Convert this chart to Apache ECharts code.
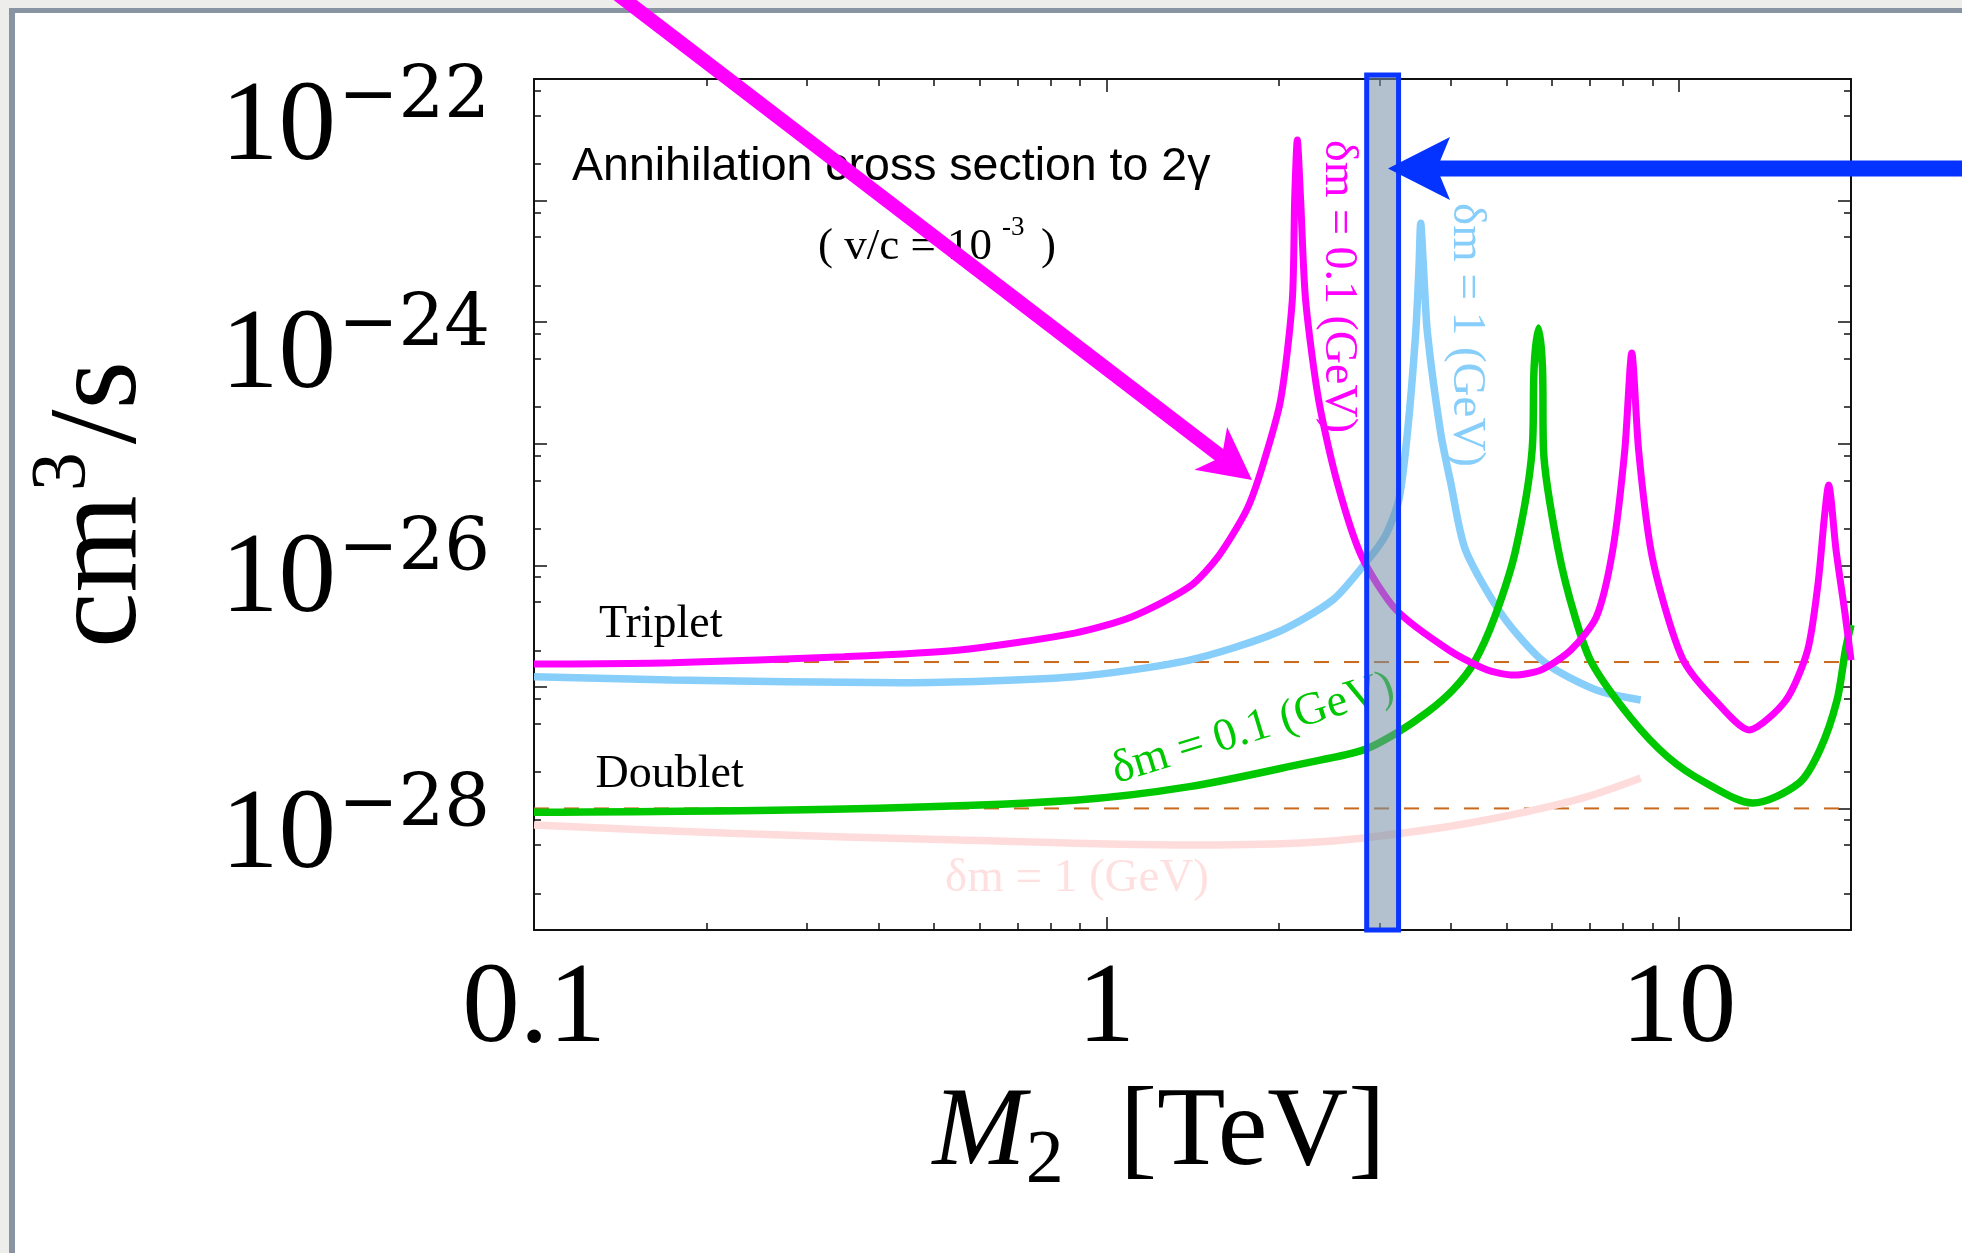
<!DOCTYPE html>
<html><head><meta charset="utf-8">
<script src="https://cdn.jsdelivr.net/npm/echarts@6/dist/echarts.min.js"></script>
<style>
html,body{margin:0;padding:0;width:1962px;height:1253px;overflow:hidden;background:#ededeb;}
#panel{position:absolute;left:9px;top:8px;right:0;bottom:0;background:#fff;border-left:6px solid #8994a2;border-top:5px solid #8994a2;}
#chart{position:absolute;left:0;top:0;width:1962px;height:1253px;}
</style></head><body><div id="panel"></div><div id="chart"></div>
<script>
// ---- axis ranges & ticks (cm^3/s) ----
const X_MIN = 0.1, X_MAX = 20, Y_MIN = 1e-29, Y_MAX = 1e-22;
const xLabelValues = [0.1, 1, 10];
const xTicksMajor = [0.1, 1, 10];
const xTicksMinor = [0.2,0.3,0.4,0.5,0.6,0.7,0.8,0.9,2,3,4,5,6,7,8,9];
const yLabelValues = [1e-28, 1e-26, 1e-24, 1e-22];
const yTicksMajor = [1e-29,1e-28,1e-27,1e-26,1e-25,1e-24,1e-23,1e-22];
const yTicksMinor = [2e-29,5e-29,8e-29,2e-28,5e-28,8e-28,2e-27,5e-27,8e-27,2e-26,5e-26,8e-26,
                     2e-25,5e-25,8e-25,2e-24,5e-24,8e-24,2e-23,5e-23,8e-23];

// ---- reference levels and highlighted band ----
const tripletRelic = 1.6e-27;
const doubletRelic = 1e-28;
const bandRange = [2.85, 3.24];

// ---- Triplet, dm = 0.1 GeV (magenta) ----
const tripletDm01X = [0.1,0.174,0.348,0.554,0.88,1.109,1.397,1.568,1.758,1.873,2.016,2.113,2.133,2.156,2.185,2.229,2.349,2.533,2.793,3.21,3.965,4.62,5.15,5.755,6.48,7.18,7.67,8.05,8.28,8.51,8.94,9.57,10.25,11.56,13.27,15.4,16.8,17.52,17.97,18.28,18.83,19.56,20];
const tripletDm01Y = [1.54e-27,1.58e-27,1.77e-27,2.01e-27,2.77e-27,3.78e-27,6.67e-27,1.18e-26,2.85e-26,6.47e-26,2.29e-25,1.52e-24,1.01e-23,3.15e-23,1.01e-23,1.52e-24,2.29e-25,4.75e-26,1.18e-26,4.29e-27,2.01e-27,1.38e-27,1.25e-27,1.38e-27,2.01e-27,3.76e-27,1.34e-26,8.87e-26,5.57e-25,8.87e-26,1.34e-26,3.76e-27,1.57e-27,7.80e-28,4.42e-28,7.80e-28,2.01e-27,7.14e-27,2.49e-26,4.57e-26,1.34e-26,3.76e-27,1.66e-27];

// ---- Triplet, dm = 1 GeV (light blue) ----
const tripletDm1X = [0.1,0.174,0.44,0.88,1.397,1.975,2.486,2.862,3.076,3.243,3.357,3.471,3.518,3.542,3.581,3.639,3.839,3.997,4.24,4.94,5.85,7.18,8.58];
const tripletDm1Y = [1.21e-27,1.14e-27,1.08e-27,1.21e-27,1.66e-27,2.77e-27,5.18e-27,1.10e-26,1.77e-26,3.44e-26,1.22e-25,8.15e-25,2.86e-24,6.50e-24,2.86e-24,8.15e-25,1.22e-25,4.75e-26,1.34e-26,3.76e-27,1.57e-27,9.42e-28,7.80e-28];

// ---- Doublet, dm = 0.1 GeV (green) ----
const doubletDm01X = [0.1,0.348,0.88,1.397,2.218,2.817,3.21,3.64,4.03,4.385,4.77,5.19,5.545,5.59,5.69,5.78,5.805,6.16,6.59,7.05,8.22,9.57,11.16,13.47,16.23,17.65,18.91,19.56,20];
const doubletDm01Y = [9.29e-29,9.89e-29,1.17e-28,1.51e-28,2.35e-28,3.03e-28,4.15e-28,6.2e-28,9.42e-28,1.57e-27,3.76e-27,1.34e-26,8.87e-26,4.28e-25,8.95e-25,4.28e-25,8.87e-26,1.34e-26,3.76e-27,1.57e-27,5.65e-28,2.65e-28,1.62e-28,1.11e-28,1.62e-28,3.03e-28,7.80e-28,2.01e-27,3.23e-27];

// ---- Doublet, dm = 1 GeV (pink) ----
const doubletDm1X = [0.1,0.22,0.554,1.397,2.185,2.817,4.31,6.59,8.58];
const doubletDm1Y = [7.31e-29,6.24e-29,5.50e-29,5.00e-29,5.20e-29,5.71e-29,7.58e-29,1.17e-28,1.78e-28];

// The log axis works in units of 1e-29 cm^3/s (ECharts rounds tiny log-tick values to 0).
const Y_UNIT = 1e-29;
const Y_UNIT_EXP = -29;
const toAxis = v => Number((v / Y_UNIT).toPrecision(12));

const SERIF = '"Liberation Serif","Times New Roman",serif';
const SUPSERIF = '"DejaVu Serif","Liberation Serif",serif';
const SANS = '"Liberation Sans",Arial,sans-serif';
const MAGENTA = '#ff00ff', LBLUE = '#87cefa', GREEN = '#00c800', PINK = '#ffdcdc';

function pairs(xs, ys) { return xs.map((x, i) => [x, toAxis(ys[i])]); }

const tickStyle = {color: '#111', width: 1.5};
const lineAxis = {show: true, onZero: false, lineStyle: {color: '#111', width: 2}};
function xAx(pos, major) {
  return {
    type: 'log', logBase: 10, min: X_MIN, max: X_MAX, position: pos, gridIndex: 0,
    splitLine: {show: false},
    axisLine: major ? lineAxis : {show: false, onZero: false},
    axisTick: {show: true, inside: true, length: major ? 13 : 7,
               customValues: major ? xTicksMajor : xTicksMinor, lineStyle: tickStyle},
    axisLabel: {show: false}
  };
}
function yAx(pos, major) {
  return {
    type: 'log', logBase: 10, min: toAxis(Y_MIN), max: toAxis(Y_MAX), position: pos, gridIndex: 0,
    splitLine: {show: false},
    axisLine: major ? lineAxis : {show: false, onZero: false},
    axisTick: {show: true, inside: true, length: major ? 13 : 7,
               customValues: (major ? yTicksMajor : yTicksMinor).map(toAxis), lineStyle: tickStyle},
    axisLabel: {show: false}
  };
}

const xMain = xAx('bottom', true);
xMain.axisLabel = {
  show: true, customValues: xLabelValues, margin: 23,
  fontFamily: SERIF, fontSize: 115, lineHeight: 115, color: '#000',
  formatter: v => String(Number(v.toPrecision(3)))
};
xMain.name = '{i|M}{d|2}{r|  [TeV]}';
xMain.nameLocation = 'middle';
xMain.nameGap = 140;
xMain.nameTextStyle = {
  padding: [0, 67, 0, 0],
  rich: {
    i: {fontFamily: SERIF, fontStyle: 'italic', fontSize: 112, lineHeight: 130, verticalAlign: 'middle', color: '#000'},
    d: {fontFamily: SERIF, fontSize: 76, lineHeight: 72, verticalAlign: 'bottom', color: '#000'},
    r: {fontFamily: SERIF, fontSize: 112, lineHeight: 130, verticalAlign: 'middle', color: '#000'}
  }
};

const yMain = yAx('left', true);
const yPad = {22: 80, 24: 50, 26: 12, 28: 36};
yMain.axisLabel = {
  show: true, customValues: yLabelValues.map(toAxis), margin: 44, color: '#000',
  formatter: v => {
    const e = -(Math.round(Math.log10(v)) + Y_UNIT_EXP);
    return '{p' + e + '| }\n{b|10}{s|\u2212' + e + '}';
  },
  rich: {
    b: {fontFamily: SERIF, fontSize: 115, lineHeight: 135, verticalAlign: 'bottom', color: '#000'},
    s: {fontFamily: SUPSERIF, fontSize: 72, lineHeight: 70, verticalAlign: 'top', color: '#000', padding: [12, 0, 0, 2]},
    p22: {fontSize: 1, lineHeight: yPad[22]},
    p24: {fontSize: 1, lineHeight: yPad[24]},
    p26: {fontSize: 1, lineHeight: yPad[26]},
    p28: {fontSize: 1, lineHeight: yPad[28]}
  }
};
yMain.name = '{a|cm}{p|3}{a|/s}';
yMain.nameLocation = 'middle';
yMain.nameRotate = 90;
yMain.nameGap = 369;
yMain.nameTextStyle = {
  rich: {
    a: {fontFamily: SERIF, fontSize: 125, lineHeight: 140, verticalAlign: 'bottom', color: '#000'},
    p: {fontFamily: SERIF, fontSize: 78, lineHeight: 75, verticalAlign: 'top', color: '#000', padding: [0, 8, 0, 4]}
  }
};

function curve(xs, ys, color, width, z, smooth) {
  return {
    type: 'line', data: pairs(xs, ys), xAxisIndex: 0, yAxisIndex: 0,
    symbol: 'none', showSymbol: false, smooth: smooth, z: z, silent: true,
    lineStyle: {color: color, width: width, join: 'bevel', cap: 'butt'}
  };
}
function refLine(v) {
  return {
    type: 'line', data: [[X_MIN, toAxis(v)], [X_MAX, toAxis(v)]], xAxisIndex: 0, yAxisIndex: 0,
    symbol: 'none', showSymbol: false, z: 2, silent: true,
    lineStyle: {color: '#c8691c', width: 2, type: [15, 15]}
  };
}

// arrows (annotation shapes, pixel positions)
const magTail = [612, -10];
const magArrowHead = [[1252, 480], [1227.1, 427], [1221.8, 456.9], [1194.3, 469.8]];
const blueArrowHead = [[1388, 168.5], [1450, 137], [1437, 168.5], [1450, 200]];

const chart = echarts.init(document.getElementById('chart'), null, {renderer: 'canvas'});
chart.setOption({
  animation: false,
  backgroundColor: 'transparent',
  grid: {left: 534, right: 111, top: 79, bottom: 323, containLabel: false, outerBoundsMode: 'none'},
  xAxis: [xMain, xAx('bottom', false), xAx('top', true), xAx('top', false)],
  yAxis: [yMain, yAx('left', false), yAx('right', true), yAx('right', false)],
  series: [
    refLine(tripletRelic),
    refLine(doubletRelic),
    curve(doubletDm1X, doubletDm1Y, PINK, 7.5, 3, 0.35),
    curve(tripletDm1X, tripletDm1Y, LBLUE, 7.5, 3, 0.25),
    curve(doubletDm01X, doubletDm01Y, GREEN, 7.5, 3, 0.3),
    curve(tripletDm01X, tripletDm01Y, MAGENTA, 7, 3, 0.25),
    {
      type: 'custom', xAxisIndex: 0, yAxisIndex: 0, z: 5, clip: false, silent: true,
      data: [[bandRange[0], toAxis(Y_MAX), bandRange[1], toAxis(Y_MIN)]],
      encode: {x: [0, 2], y: [1, 3]},
      renderItem: (params, api) => {
        const p0 = api.coord([api.value(0), api.value(1)]);
        const p1 = api.coord([api.value(2), api.value(3)]);
        const ext = 4; // the band's frame pokes slightly past the plot frame
        return {
          type: 'rect',
          shape: {x: p0[0], y: p0[1] - ext, width: p1[0] - p0[0], height: p1[1] - p0[1] + ext},
          style: {fill: 'rgba(117,144,166,0.56)', stroke: '#0a36ff', lineWidth: 5}
        };
      }
    }
  ],
  graphic: [
    {type: 'text', x: 572, y: 167.5, z: 4, style: {text: 'Annihilation cross section to 2\u03b3', fontFamily: SANS, fontSize: 46.5, fill: '#000', align: 'left', verticalAlign: 'middle'}},
    {type: 'text', x: 818, y: 247, z: 4, style: {text: '( v/c = 10', fontFamily: SERIF, fontSize: 45, fill: '#000', align: 'left', verticalAlign: 'middle'}},
    {type: 'text', x: 1002, y: 228, z: 4, style: {text: '-3', fontFamily: SERIF, fontSize: 27, fill: '#000', align: 'left', verticalAlign: 'middle'}},
    {type: 'text', x: 1041, y: 247, z: 4, style: {text: ')', fontFamily: SERIF, fontSize: 45, fill: '#000', align: 'left', verticalAlign: 'middle'}},
    {type: 'text', x: 599, y: 624.5, z: 4, style: {text: 'Triplet', fontFamily: SERIF, fontSize: 46, fill: '#000', align: 'left', verticalAlign: 'middle'}},
    {type: 'text', x: 595.5, y: 775, z: 4, style: {text: 'Doublet', fontFamily: SERIF, fontSize: 46, fill: '#000', align: 'left', verticalAlign: 'middle'}},
    {type: 'text', x: 1077, y: 879, z: 4, style: {text: '\u03b4m = 1 (GeV)', fontFamily: SERIF, fontSize: 47, fill: '#ffe0e0', align: 'center', verticalAlign: 'middle'}},
    {type: 'text', x: 1338, y: 286.5, rotation: -Math.PI / 2, z: 4, style: {text: '\u03b4m = 0.1 (GeV)', fontFamily: SERIF, fontSize: 46, fill: MAGENTA, align: 'center', verticalAlign: 'middle'}},
    {type: 'text', x: 1466, y: 335, rotation: -Math.PI / 2, z: 4, style: {text: '\u03b4m = 1 (GeV)', fontFamily: SERIF, fontSize: 47, fill: LBLUE, align: 'center', verticalAlign: 'middle'}},
    {type: 'text', x: 1253, y: 729, rotation: 0.295, z: 4, style: {text: '\u03b4m = 0.1 (GeV)', fontFamily: SERIF, fontSize: 46, fill: GREEN, align: 'center', verticalAlign: 'middle'}},
    // magenta arrow
    {type: 'line', z: 10, shape: {x1: magTail[0], y1: magTail[1], x2: 1221.8, y2: 456.9}, style: {stroke: MAGENTA, lineWidth: 14}},
    {type: 'polygon', z: 10, shape: {points: magArrowHead}, style: {fill: MAGENTA}},
    // blue arrow
    {type: 'line', z: 10, shape: {x1: 1437, y1: 168.5, x2: 1975, y2: 168.5}, style: {stroke: '#0433ff', lineWidth: 16}},
    {type: 'polygon', z: 10, shape: {points: blueArrowHead}, style: {fill: '#0433ff'}}
  ]
});
</script></body></html>
